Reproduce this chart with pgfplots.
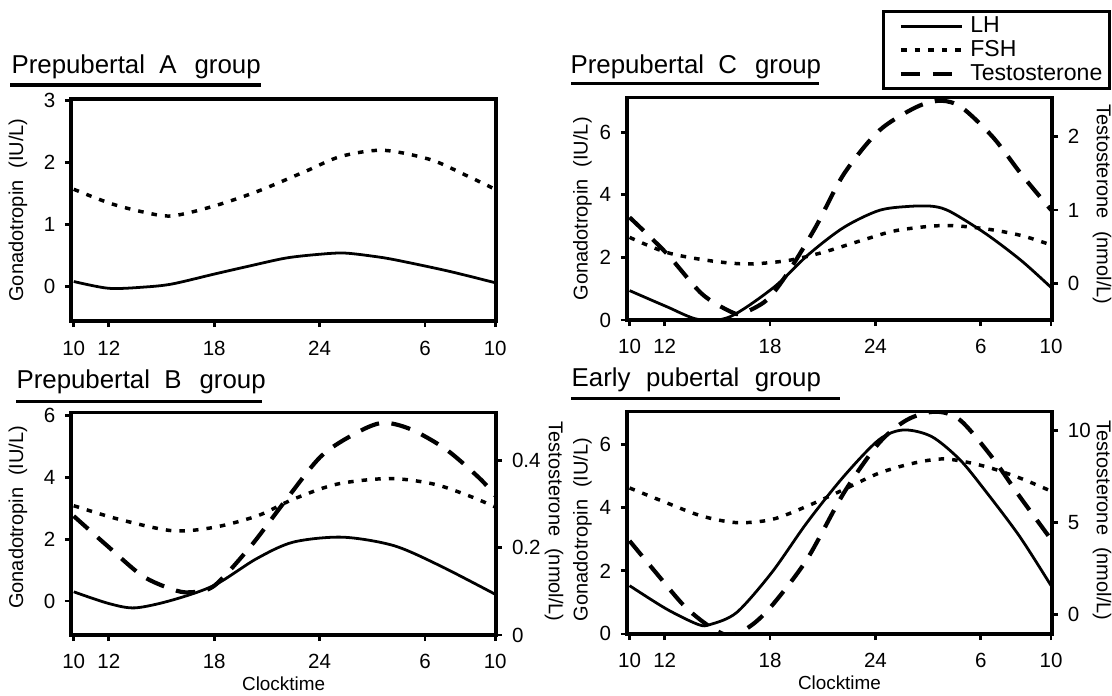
\documentclass[border=0pt]{standalone}
\usepackage{fontspec}
\setmainfont{Liberation Sans}
\usepackage{pgfplots}
\pgfplotsset{compat=1.18}
\tikzset{
  lh/.style={black, line width=1.0pt, solid},
  fsh/.style={black, line width=1.25pt, dash pattern=on 2pt off 2.9pt},
  tes/.style={black, line width=1.5pt, dash pattern=on 7pt off 4.5pt},
}
\pgfplotsset{
  panel/.style={
    scale only axis, width=153pt, height=80pt,
    xmin=-0.15, xmax=24.05,
    xtick={0,2,8,14,20,24}, xticklabels={10,12,18,24,6,10},
    xtick pos=bottom, tick align=outside, major tick length=2.2pt,
    every tick/.style={black, line width=1pt},
    axis line style={line width=1.2pt},
    tick label style={font=\fontsize{7.4}{8}\selectfont},
    xticklabel style={yshift=-1.3pt},
    /pgf/number format/assume math mode=true,
    ylabel style={font=\fontsize{7.2}{8}\selectfont},
    xlabel style={font=\fontsize{6.8}{8}\selectfont},
    legend image code/.code={\path (0pt,0pt); \draw[##1] (3.2pt,0pt) -- (25.2pt,0pt);},
  },
  leftax/.style={panel, ytick pos=left, yticklabel pos=left,
    ylabel={Gonadotropin\hspace{0.6em}(IU/L)},
    ylabel style={at={(axis description cs:-0.125,0.5)}, anchor=center}},
  rightax/.style={panel, ytick pos=right, yticklabel pos=right, xtick=\empty,
    ylabel={Testosterone\hspace{0.6em}(nmol/L)},
    ylabel style={at={(axis description cs:1.118,0.52)}, anchor=center, rotate=180}},
}
\begin{document}
\begin{tikzpicture}
\path[use as bounding box] (0,0) rectangle (400.32pt,250.2pt);

% ---------- Prepubertal A ----------
\begin{axis}[leftax, at={(25.6pt,134.6pt)}, anchor=south west,
  ymin=-0.56, ymax=3.03, ytick={0,1,2,3}]
\addplot[lh, smooth] coordinates {(0,0.08) (2,-0.03) (4,-0.01) (5.6,0.04) (8,0.2) (10,0.33) (12.1,0.46) (14,0.52) (15.4,0.54) (17,0.49) (18.3,0.43) (21.3,0.25) (24,0.06)};
\addplot[fsh, smooth] coordinates {(0,1.57) (2.1,1.34) (4,1.2) (5.6,1.14) (8,1.3) (10.5,1.54) (13.2,1.86) (15.2,2.1) (17.6,2.2) (20.3,2.05) (22.3,1.8) (24,1.57)};
\end{axis}

% ---------- Prepubertal C ----------
\begin{axis}[leftax, at={(225.7pt,135pt)}, anchor=south west,
  ymin=0, ymax=7.1, ytick={0,2,4,6},
  ylabel style={at={(axis description cs:-0.105,0.5)}},
  legend style={at={(0.601,1.395)}, anchor=north west, draw=black, line width=1.1pt,
    font=\fontsize{8.3}{9}\selectfont, inner xsep=2.2pt, inner ysep=1pt, row sep=0pt,
    nodes={inner sep=0.4pt, text height=6.2pt, text depth=1.6pt},
    /tikz/every odd column/.append style={column sep=1.8pt}},
  legend cell align=left]
\addplot[lh, smooth] coordinates {(0,0.94) (2.1,0.43) (3.9,0.02) (5.7,0.1) (8.2,1.04) (10.2,2.1) (12.2,2.96) (14.2,3.5) (15.9,3.63) (17.3,3.63) (18.3,3.45) (20.3,2.75) (22.3,1.9) (24,1.04)};
\addlegendentry{LH}
\addplot[fsh, smooth] coordinates {(0,2.64) (2.1,2.16) (4.5,1.9) (6.7,1.79) (9,1.9) (11,2.16) (13.2,2.54) (15.2,2.86) (17.9,3.02) (20.3,2.91) (22.3,2.7) (24,2.4)};
\addlegendentry{FSH}
\addlegendimage{tes}
\addlegendentry{Testosterone}
\end{axis}
\begin{axis}[rightax, at={(225.7pt,135pt)}, anchor=south west,
  ymin=-0.5, ymax=2.53, ytick={0,1,2}]
\addplot[tes, smooth] coordinates {(0,0.9) (2.1,0.41) (4.1,-0.14) (5.7,-0.38) (6.4,-0.41) (7.8,-0.23) (9,0.14) (10.6,0.77) (12.2,1.49) (14.2,2.08) (16.3,2.4) (17.7,2.49) (18.9,2.4) (20.7,1.99) (22.3,1.49) (24,1.0)};
\end{axis}

% ---------- Prepubertal B ----------
\begin{axis}[leftax, at={(25.6pt,21.6pt)}, anchor=south west,
  ymin=-1.1, ymax=6.1, ytick={0,2,4,6},
  xlabel={Clocktime}, xlabel style={at={(axis description cs:0.5,-0.22)}, anchor=center},
  ylabel style={at={(axis description cs:-0.125,0.53)}}]
\addplot[lh, smooth] coordinates {(0,0.3) (2,-0.08) (3.5,-0.22) (5.6,0.03) (8,0.51) (10.4,1.37) (12.5,1.91) (15.3,2.07) (18.2,1.8) (20.8,1.16) (24,0.22)};
\addplot[fsh, smooth] coordinates {(0,3.09) (2.5,2.66) (5.6,2.28) (8,2.39) (10.5,2.77) (12.5,3.3) (15,3.79) (18,3.97) (20.5,3.79) (22.5,3.41) (24,3.05)};
\end{axis}
\begin{axis}[rightax, at={(25.6pt,21.6pt)}, anchor=south west,
  ymin=0, ymax=0.51, ytick={0,0.2,0.4},
  ylabel style={at={(axis description cs:1.136,0.51)}}]
\addplot[tes, smooth] coordinates {(0,0.273) (1.9,0.205) (3.9,0.136) (5.6,0.105) (6.6,0.098) (8,0.113) (10.1,0.205) (12.1,0.311) (14.1,0.411) (16.1,0.464) (17.6,0.487) (19.2,0.472) (21.2,0.426) (23.1,0.36) (24,0.32)};
\end{axis}

% ---------- Early pubertal ----------
\begin{axis}[leftax, at={(225.7pt,22pt)}, anchor=south west,
  ymin=0, ymax=7.05, ytick={0,2,4,6},
  xlabel={Clocktime}, xlabel style={at={(axis description cs:0.5,-0.22)}, anchor=center},
  ylabel style={at={(axis description cs:-0.105,0.47)}}]
\addplot[lh, smooth] coordinates {(0,1.53) (2.1,0.79) (3.9,0.3) (4.6,0.3) (6.1,0.68) (8.1,1.95) (10.1,3.53) (12.2,5.0) (14.2,6.16) (15.6,6.47) (17.2,6.26) (18.8,5.53) (20.2,4.58) (22.2,3.1) (24,1.53)};
\addplot[fsh, smooth] coordinates {(0,4.63) (2.1,4.16) (4.1,3.74) (6.1,3.53) (8.1,3.63) (10.1,4.05) (12.2,4.58) (14.2,5.1) (16.2,5.42) (18,5.55) (20.2,5.32) (22.2,4.95) (24,4.53)};
\end{axis}
\begin{axis}[rightax, at={(225.7pt,22pt)}, anchor=south west,
  ymin=-1.04, ymax=11, ytick={0,5,10},
  ylabel style={at={(axis description cs:1.118,0.51)}}]
\addplot[tes, smooth] coordinates {(0,4.0) (1.5,2.28) (3.1,0.49) (4.5,-0.6) (5.7,-1.13) (6.9,-0.6) (8.1,0.49) (10.1,3.0) (12.2,6.6) (14.2,9.3) (15.8,10.56) (17.4,11.0) (18.8,10.56) (20.6,8.58) (22.2,6.42) (24,4.08)};
\end{axis}

% ---------- titles ----------
\node[anchor=west, inner sep=0pt, font=\fontsize{9.3}{10}\selectfont] at (3.96pt,226.1pt) {Prepubertal\hspace{0.55em}A\hspace{0.7em}group};
\draw[line width=1.1pt] (3.6pt,219.6pt) -- (94pt,219.6pt);
\node[anchor=west, inner sep=0pt, font=\fontsize{9.3}{10}\selectfont] at (205.2pt,226.1pt) {Prepubertal\hspace{0.55em}C\hspace{0.7em}group};
\draw[line width=1.1pt] (205.6pt,220.3pt) -- (294.8pt,220.3pt);
\node[anchor=west, inner sep=0pt, font=\fontsize{9.3}{10}\selectfont] at (5.76pt,112.7pt) {Prepubertal\hspace{0.55em}B\hspace{0.7em}group};
\draw[line width=1.1pt] (5.76pt,105.8pt) -- (94.3pt,105.8pt);
\node[anchor=west, inner sep=0pt, font=\fontsize{9.3}{10}\selectfont] at (205.6pt,113.4pt) {Early\hspace{0.6em}pubertal\hspace{0.6em}group};
\draw[line width=1.1pt] (205.6pt,106.9pt) -- (302.4pt,106.9pt);
\end{tikzpicture}
\end{document}
